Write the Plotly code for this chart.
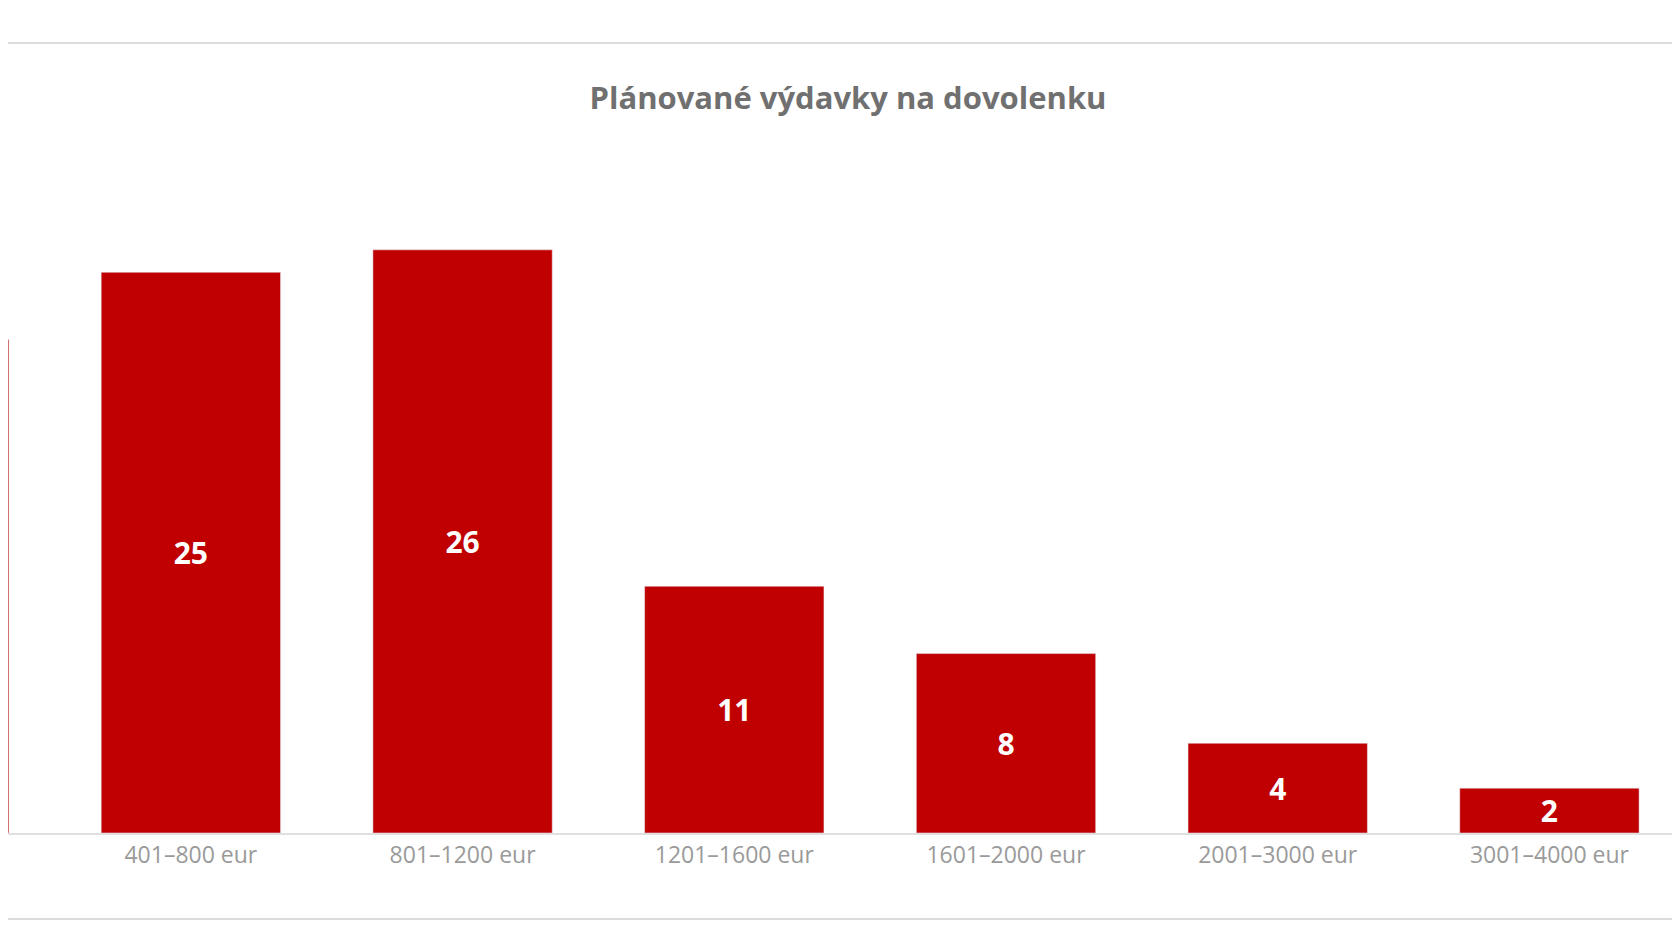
import plotly.graph_objects as go

categories = ["0–400 eur", "401–800 eur", "801–1200 eur", "1201–1600 eur",
              "1601–2000 eur", "2001–3000 eur", "3001–4000 eur"]
values = [22, 25, 26, 11, 8, 4, 2]
labels = ["", "25", "26", "11", "8", "4", "2"]
positions = list(range(len(categories)))

fig = go.Figure(go.Bar(
    x=positions, y=values, text=labels, width=0.66,
    marker_color="#C00000", textposition="inside", insidetextanchor="middle",
    textangle=0, constraintext="none",
    textfont=dict(family="Open Sans", size=30, color="white", weight="bold"),
    cliponaxis=True,
))
fig.update_layout(
    width=1680, height=945, margin=dict(l=0, r=0, t=0, b=0),
    paper_bgcolor="white", plot_bgcolor="white", showlegend=False,
    title=dict(text="Plánované výdavky na dovolenku", x=0.5, y=0.905, xanchor="center", yanchor="middle",
               font=dict(family="Open Sans", size=31, color="#707070", weight="bold")),
    xaxis=dict(range=[0.327, 6.51], tickvals=positions[1:], ticktext=categories[1:],
               showgrid=False, showline=True, linecolor="#e0e0e0", linewidth=2,
               tickfont=dict(family="Open Sans", size=23, color="#9a9a9a"), ticks=""),
    yaxis=dict(range=[0, 30], domain=[0.127, 0.839], visible=False),
    shapes=[
        dict(type="line", xref="paper", yref="paper", x0=0, x1=1, y0=0.963, y1=0.963,
             line=dict(color="#dcdcdc", width=2)),
        dict(type="line", xref="paper", yref="paper", x0=0, x1=1, y0=0.036, y1=0.036,
             line=dict(color="#dcdcdc", width=2)),
    ],
)
fig.write_html("out.html")
